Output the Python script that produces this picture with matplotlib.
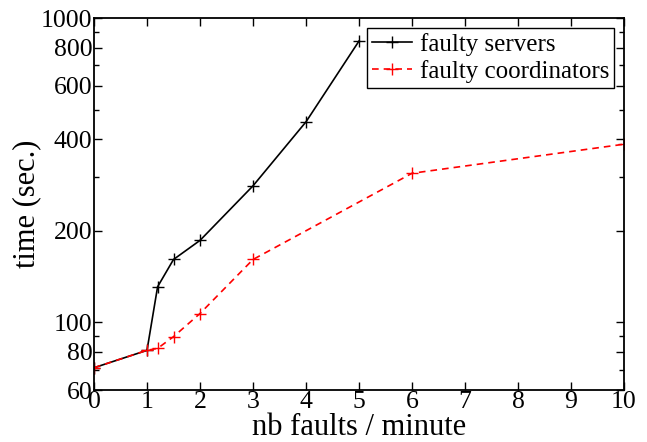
import matplotlib
matplotlib.use("Agg")
import matplotlib.pyplot as plt
from matplotlib.ticker import FixedLocator, NullFormatter

plt.rcParams['font.family'] = ['Liberation Serif', 'DejaVu Serif']

# data
servers_x = [0, 1, 1.2, 1.5, 2, 3, 4, 5]
servers_y = [71, 81, 131, 161, 186, 281, 456, 840]
coord_x = [0, 1, 1.2, 1.5, 2, 3, 6, 10]
coord_y = [71, 81, 82.2, 89.8, 107, 161, 309, 385]

y_major = [60, 80, 100, 200, 400, 600, 800, 1000]
y_minor = [70, 90, 300, 500, 700, 900]
x_ticks = list(range(0, 11))

fig = plt.figure(figsize=(6.47, 4.42), dpi=100)
ax = fig.add_axes([94 / 647, 52 / 442, 530 / 647, 372 / 442])

ax.plot(servers_x, servers_y, color='black', lw=1.2, marker='+',
        markersize=9, markeredgewidth=1.0, label='faulty servers')
ax.plot(coord_x, coord_y, color='red', lw=1.2, ls=(0, (4, 3)), marker='+',
        markersize=9, markeredgewidth=1.0, label='faulty coordinators')

ax.set_yscale('log')
ax.set_xlim(0, 10)
ax.set_ylim(60, 1000)
ax.yaxis.set_major_locator(FixedLocator(y_major))
ax.yaxis.set_minor_locator(FixedLocator(y_minor))
ax.set_yticklabels([str(v) for v in y_major])
ax.yaxis.set_minor_formatter(NullFormatter())
ax.set_xticks(x_ticks)
ax.set_xticklabels([str(v) for v in x_ticks])

ax.tick_params(which='both', direction='in', top=True, right=True,
               labelsize=18.5, width=1.0)
ax.tick_params(which='major', length=6, pad=1)
ax.tick_params(which='minor', length=3.5)
for s in ax.spines.values():
    s.set_linewidth(1.3)

ax.set_xlabel('nb faults / minute', fontsize=22, labelpad=0)
ax.set_ylabel('time (sec.)', fontsize=22, labelpad=0)

leg = ax.legend(loc='upper right', fontsize=18, fancybox=False,
                edgecolor='black', framealpha=1, borderpad=0.2,
                handlelength=1.6, handletextpad=0.3, labelspacing=0.15,
                borderaxespad=0.4)
leg.get_frame().set_linewidth(1.0)

fig.savefig('out.png', dpi=100)
